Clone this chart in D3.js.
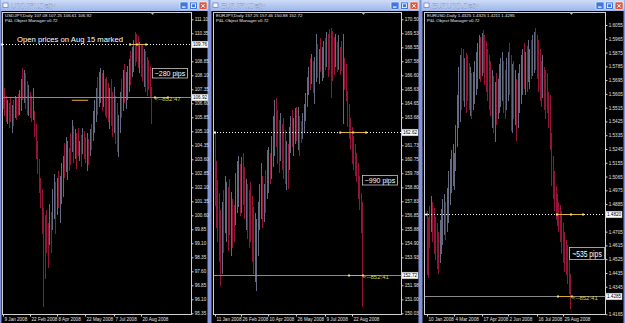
<!DOCTYPE html>
<html><head><meta charset="utf-8">
<script src="https://cdn.jsdelivr.net/npm/d3@7"></script>
<style>html,body{margin:0;padding:0;background:#000;overflow:hidden}svg{display:block}</style>
</head><body><svg id="c" width="625" height="323"></svg>
<script>
// ---------------- DATA ----------------
const usdjpyHigh = [109.6,107.4,107.0,106.8,106.6,106.9,106.5,106.8,107.0,106.9,
 107.1,107.3,107.9,108.5,108.4,108.2,107.8,107.6,107.2,107.0,
 107.4,106.2,105.5,104.6,103.6,102.6,102.0,101.0,100.6,100.9,
 100.2,101.2,100.8,102.0,102.8,102.4,102.6,103.0,102.7,103.4,
 103.8,104.5,104.8,104.6,104.2,105.0,105.7,105.4,105.2,105.0,
 105.3,104.6,104.9,105.3,105.1,104.8,105.0,104.7,105.2,105.5,
 106.2,106.8,107.4,108.0,108.3,108.5,108.2,108.4,107.9,108.0,
 107.7,107.4,107.9,107.2,107.5,107.0,106.6,106.0,107.2,107.9,
 108.4,108.7,108.3,108.6,109.0,109.4,109.6,110.0,110.4,110.3,
 110.2,109.9,109.7,109.8,109.5,109.4,109.1,108.9,108.6,107.5];
const usdjpyLow = [106.3,105.9,105.6,105.5,105.3,105.6,105.0,105.4,105.8,105.7,
 105.9,106.0,106.2,106.8,106.6,106.3,106.0,105.9,105.8,105.6,
 105.7,104.8,103.6,102.8,101.8,101.0,99.6,95.7,97.2,98.6,
 97.8,99.0,98.6,99.8,100.4,99.6,100.6,101.0,100.2,101.2,
 101.6,102.6,102.9,102.5,103.0,103.3,104.0,103.4,103.6,103.1,
 103.8,103.5,103.2,103.9,103.6,103.4,103.0,103.3,103.8,104.1,
 104.6,105.0,105.6,106.0,106.4,106.6,106.2,106.4,105.9,105.8,
 105.6,105.2,105.4,104.8,105.0,104.4,104.0,103.7,105.0,105.8,
 106.2,106.6,106.3,106.8,107.2,107.6,108.0,108.3,108.6,108.8,
 108.5,108.2,108.0,107.8,107.5,107.2,107.0,107.3,106.9,105.5];
const usdjpyDir = "0001001010"+"0110100100"+"1000000000"+"0101101011"+"1011001010"+
                  "0101001010"+"1110110100"+"0100100110"+"1011101100"+"0100100000";

const eurjpyHigh = [162.6,160.6,159.3,158.4,157.2,157.8,158.6,159.6,159.2,158.8,
 159.4,158.5,158.0,157.6,159.8,160.6,161.0,160.4,160.9,161.2,
 160.2,159.4,159.0,158.6,159.2,158.2,157.4,157.0,156.6,157.8,
 159.0,160.5,159.6,159.0,160.0,161.4,161.6,161.2,162.4,163.8,
 164.9,165.0,164.2,163.5,164.0,163.2,163.6,162.8,162.0,161.8,
 163.0,163.8,164.2,163.6,164.3,164.4,164.4,163.8,163.4,164.0,
 164.6,165.4,166.5,167.2,167.8,168.1,167.6,167.9,169.5,168.8,
 168.4,169.2,168.6,169.0,169.2,169.6,169.5,169.8,169.9,169.7,
 169.3,169.5,168.9,169.4,168.6,169.0,169.5,167.8,167.4,165.5,
 164.6,163.6,163.0,162.4,161.8,161.2,160.5,159.6,158.4,157.8];
const eurjpyLow = [157.5,156.0,155.0,153.6,151.9,152.8,154.2,155.6,155.0,154.4,
 155.5,154.0,154.6,155.0,156.2,157.0,157.4,156.8,157.0,157.6,
 156.6,155.8,155.2,154.6,155.0,153.6,152.8,152.2,151.6,154.0,
 155.8,156.6,156.0,156.4,157.0,158.0,158.4,159.0,159.4,160.2,
 161.0,161.6,160.4,159.8,160.6,160.0,159.4,159.0,158.6,158.7,
 160.0,161.2,161.6,161.0,161.8,162.0,161.4,161.0,161.9,162.2,
 162.6,163.4,164.4,165.2,165.6,166.0,165.4,164.6,166.1,166.4,
 166.0,166.8,166.2,166.4,167.0,167.2,166.5,167.0,165.0,166.2,
 166.6,167.2,166.8,167.0,166.6,166.9,163.2,165.6,164.8,163.0,
 162.2,161.4,160.4,160.0,159.6,159.2,158.0,157.2,155.6,150.5];
const eurjpyDir = "0000010110"+"0100111010"+"0100000111"+"1101011011"+"1000100010"+
                  "1101101001"+"1111010110"+"1011010000"+"0101001000"+"0000000000";

const eurusdHigh = [1.4840,1.4800,1.4870,1.4940,1.4900,1.4860,1.4800,1.4760,1.4700,1.4780,
 1.4850,1.4920,1.4950,1.4900,1.4990,1.5100,1.5180,1.5240,1.5280,1.5220,
 1.5400,1.5600,1.5780,1.5860,1.5904,1.5900,1.5840,1.5870,1.5860,1.5810,
 1.5780,1.5740,1.5750,1.5820,1.5880,1.5940,1.5990,1.5976,1.6000,1.6022,
 1.5990,1.5950,1.5900,1.5860,1.5820,1.5760,1.5720,1.5680,1.5740,1.5700,
 1.5800,1.5840,1.5880,1.5820,1.5760,1.5840,1.5880,1.5940,1.5860,1.5800,
 1.5820,1.5760,1.5700,1.5740,1.5800,1.5860,1.5900,1.5940,1.5880,1.5920,
 1.5960,1.5900,1.5960,1.5990,1.6010,1.6035,1.5990,1.5960,1.5900,1.5820,
 1.5860,1.5780,1.5760,1.5740,1.5620,1.5600,1.5350,1.5200,1.5100,1.5000,
 1.4950,1.4900,1.4880,1.4840,1.4760,1.4700,1.4650,1.4620,1.4560,1.4430];
const eurusdLow = [1.4420,1.4400,1.4600,1.4700,1.4640,1.4560,1.4520,1.4460,1.4426,1.4500,
 1.4560,1.4620,1.4680,1.4650,1.4700,1.4760,1.4880,1.4960,1.5000,1.4980,
 1.5100,1.5260,1.5380,1.5420,1.5500,1.5560,1.5520,1.5480,1.5560,1.5500,
 1.5460,1.5440,1.5500,1.5540,1.5600,1.5640,1.5700,1.5680,1.5720,1.5740,
 1.5660,1.5620,1.5560,1.5500,1.5460,1.5380,1.5350,1.5290,1.5400,1.5440,
 1.5480,1.5520,1.5560,1.5480,1.5440,1.5500,1.5560,1.5600,1.5360,1.5352,
 1.5440,1.5400,1.5300,1.5380,1.5480,1.5540,1.5600,1.5640,1.5600,1.5620,
 1.5680,1.5640,1.5700,1.5720,1.5740,1.5760,1.5700,1.5620,1.5560,1.5520,
 1.5580,1.5500,1.5440,1.5480,1.5380,1.5240,1.5000,1.4920,1.4840,1.4780,
 1.4740,1.4700,1.4640,1.4560,1.4500,1.4440,1.4420,1.4360,1.4300,1.4200];
const eurusdDir = "0001000001"+"1110111111"+"1111001000"+"1011111010"+"0000010101"+
                  "1110011001"+"0101111010"+"1101100000"+"1000000000"+"0000000000";

const usdjpyTicks = [111.10,110.35,109.60,108.85,108.10,107.35,106.60,105.85,105.10,104.35,103.60,
 102.85,102.10,101.35,100.60,99.85,99.10,98.35,97.60,96.85,96.10,95.35];
const eurjpyTicks = [170.50,169.53,168.55,167.58,166.60,165.63,164.65,163.68,162.70,161.73,160.75,
 159.78,158.80,157.83,156.85,155.88,154.90,153.93,152.95,151.98,151.00,150.03];
const eurusdTicks = [1.6055,1.5965,1.5875,1.5785,1.5695,1.5605,1.5515,1.5425,1.5335,1.5245,1.5155,
 1.5065,1.4975,1.4885,1.4795,1.4705,1.4615,1.4525,1.4435,1.4345,1.4255,1.4165];

const usdjpyDates = ["9 Jan 2008","22 Feb 2008","8 Apr 2008","22 May 2008","7 Jul 2008","20 Aug 2008"];
const eurjpyDates = ["11 Jan 2008","26 Feb 2008","10 Apr 2008","26 May 2008","9 Jul 2008","22 Aug 2008"];
const eurusdDates = ["10 Jan 2008","4 Mar 2008","17 Apr 2008","2 Jun 2008","16 Jul 2008","29 Aug 2008"];
const usdjpyDateBar = [0,18,36,55,74,92];
const eurjpyDateBar = [0,18,36,55,74,92];
const eurusdDateBar = [0,19,38,56,76,94];

// Aug 15 open and current close
const openAug15 = [109.76, 162.62, 1.4820];
const lastClose = [106.92, 152.72, 1.4285];
const pipsText = ["~280 pips","~990 pips","~535 pips"];
const timerText = ["<--852:47","<--852:41","<--852:41"];

// ---------------- DRAW ----------------
const svg = d3.select("#c");
const FONT = "'Liberation Sans', Arial, sans-serif";
svg.append("rect").attr("width",625).attr("height",323).attr("fill","#8093d8");
const defs = svg.append("defs");
const gr = defs.append("linearGradient").attr("id","tb").attr("x1",0).attr("y1",0).attr("x2",0).attr("y2",1);
gr.append("stop").attr("offset","0%").attr("stop-color","#cddcf7");
gr.append("stop").attr("offset","100%").attr("stop-color","#9db6e9");

const panels = [
 {title:"USDJPY,Daily", info:"USDJPY,Daily  107.08 107.25 106.61 106.92", wx0:0, wx1:209, pl:2, pr:191.5,
  xr:[3,151], hi:usdjpyHigh, lo:usdjpyLow, dir:usdjpyDir, ticks:usdjpyTicks, dec:2, yr:[313.3,19.3],
  dates:usdjpyDates, dbar:usdjpyDateBar, openMarks:[-0.6,85,89.7,95.7], closeMarks:[101.7,110.3], timerAt:101.5,
  box:[152,68,35,9.5], boxFont:7.6, sx:0.92, extra:true},
 {title:"EURJPY,Daily", info:"EURJPY,Daily  157.25 157.46 150.88 152.72", wx0:210, wx1:420, pl:213, pr:401.5,
  xr:[214.5,362], hi:eurjpyHigh, lo:eurjpyLow, dir:eurjpyDir, ticks:eurjpyTicks, dec:2, yr:[313.3,19.3],
  dates:eurjpyDates, dbar:eurjpyDateBar, openMarks:[0.3,84.4,93.1,101.7], closeMarks:[90.3,99.7], timerAt:99.7,
  box:[362,175,35,9.5], boxFont:7.6, sx:0.92},
 {title:"EURUSD,Daily", info:"EURUSD,Daily  1.4325 1.4325 1.4211 1.4285", wx0:421, wx1:625, pl:424, pr:605.5,
  xr:[426.5,570], hi:eurusdHigh, lo:eurusdLow, dir:eurusdDir, ticks:eurusdTicks, dec:4, yr:[314.3,25],
  dates:eurusdDates, dbar:eurusdDateBar, openMarks:[0,90,99.7,108], closeMarks:[90.7,100.3], timerAt:100.3,
  box:[569,247,35,12], boxFont:9.4, sx:0.72}
];

panels.forEach((p,k) => {
  const G = svg.append("g");
  const ww = p.wx1 - p.wx0;
  // title bar
  G.append("rect").attr("x",p.wx0+0.5).attr("y",0).attr("width",ww-1).attr("height",11).attr("fill","url(#tb)");
  G.append("rect").attr("x",p.wx0+3).attr("y",3).attr("width",5).attr("height",4.5)
    .attr("fill","#f4f6fb").attr("stroke","#4a68b8").attr("stroke-width",0.6);
  G.append("text").attr("x",p.wx0+11).attr("y",8.2).text(p.title)
    .attr("font-family",FONT).attr("font-size",7).attr("fill","#ffffff")
    .attr("stroke","#5a74b8").attr("stroke-width",0.25);
  // buttons
  [29,19.5,10].forEach((off,b) => {
    const bx = p.wx1 - off;
    G.append("rect").attr("x",bx).attr("y",2).attr("width",8).attr("height",7.5).attr("rx",1)
      .attr("fill", b===2 ? "#d9573a" : "#3f78e6").attr("stroke","#ffffff").attr("stroke-width",0.6);
    if (b===0) G.append("rect").attr("x",bx+2).attr("y",6.5).attr("width",3.5).attr("height",1.2).attr("fill","#fff");
    if (b===1) G.append("rect").attr("x",bx+2).attr("y",3.8).attr("width",4).attr("height",3.8)
      .attr("fill","none").attr("stroke","#fff").attr("stroke-width",0.8);
    if (b===2) G.append("path").attr("d",`M${bx+2.3},4 L${bx+5.7},7.6 M${bx+5.7},4 L${bx+2.3},7.6`)
      .attr("stroke","#fff").attr("stroke-width",1);
  });
  // chart area
  G.append("rect").attr("x",p.wx0+1.5).attr("y",11).attr("width",ww-3).attr("height",312).attr("fill","#000");

  const x = d3.scaleLinear().domain([0, p.hi.length-1]).range(p.xr);
  const y = d3.scaleLinear().domain([p.ticks[p.ticks.length-1], p.ticks[0]]).range(p.yr);
  const fmt = d3.format("." + p.dec + "f");
  const yo = Math.round(y(openAug15[k])) + 0.5;
  const yc = Math.round(y(lastClose[k])) + 0.5;

  // frame
  G.append("rect").attr("x",p.pl+0.5).attr("y",12.5).attr("width",p.pr-p.pl-0.5).attr("height",302)
    .attr("fill","none").attr("stroke","#d0d0d0").attr("stroke-width",1);

  // right axis (labels hidden where a price box sits on them)
  const shown = p.ticks.filter(t => Math.abs(y(t)-yo) > 5.5 && Math.abs(y(t)-yc) > 5.5);
  const ax = G.append("g").attr("transform",`translate(${p.pr},0)`)
    .call(d3.axisRight(y).tickValues(shown).tickFormat(fmt).tickSize(2).tickPadding(1.2));
  ax.select(".domain").remove();
  ax.selectAll("line").attr("stroke","#d0d0d0");
  ax.selectAll("text").attr("font-family",FONT).attr("font-size",4.6).attr("fill","#e0e0e0");

  // bottom date axis
  const dx = G.append("g").attr("transform","translate(0,314.5)");
  p.dates.forEach((d,i) => {
    const xx = Math.round(x(p.dbar[i])) + 0.5;
    dx.append("line").attr("x1",xx).attr("x2",xx).attr("y1",0).attr("y2",2).attr("stroke","#d0d0d0");
    dx.append("text").attr("x",xx+1).attr("y",6.6).text(d)
      .attr("font-family",FONT).attr("font-size",4.6).attr("fill","#e0e0e0");
  });

  // header info
  G.append("text").attr("x",p.pl+3).attr("y",17).text(p.info)
    .attr("font-family",FONT).attr("font-size",4.4).attr("fill","#e8e8e8");
  G.append("text").attr("x",p.pl+3).attr("y",21.5).text("P&L Object Manager v0.72")
    .attr("font-family",FONT).attr("font-size",4.4).attr("fill","#e8e8e8");

  // bars
  G.append("g").selectAll("line").data(p.hi).join("line")
    .attr("x1",(d,i)=>Math.round(x(i))+0.5).attr("x2",(d,i)=>Math.round(x(i))+0.5)
    .attr("y1",d=>y(d)).attr("y2",(d,i)=>y(p.lo[i]))
    .attr("stroke",(d,i)=> p.dir[i]==="1" ? "#646b80" : "#951539")
    .attr("stroke-width",1).attr("shape-rendering","crispEdges");

  // orange object line (USDJPY only)
  if (p.extra) {
    G.append("line").attr("x1",x(46)).attr("x2",x(57)).attr("y1",y(106.76)).attr("y2",y(106.76))
      .attr("stroke","#c89030").attr("stroke-width",1.2);
  }

  // open line (dotted)
  G.append("line").attr("x1",p.pl+1).attr("x2",p.pr).attr("y1",yo).attr("y2",yo)
    .attr("stroke","#ffffff").attr("stroke-dasharray","1,2").attr("stroke-width",1);
  const om = p.openMarks;
  G.append("line").attr("x1",x(om[1])).attr("x2",x(om[3])).attr("y1",yo).attr("y2",yo)
    .attr("stroke","#e0b040").attr("stroke-width",1);
  om.forEach((m,j) => G.append("rect").attr("x",x(m)-1).attr("y",yo-1).attr("width",2).attr("height",2)
    .attr("fill", j===0 ? "#ffffff" : "#f4e070"));

  // close line (solid gray)
  G.append("line").attr("x1",p.pl+1).attr("x2",p.pr).attr("y1",yc).attr("y2",yc)
    .attr("stroke","#8a8a8a").attr("stroke-width",1);
  const cm = p.closeMarks;
  G.append("line").attr("x1",x(cm[0])).attr("x2",x(cm[1])).attr("y1",yc).attr("y2",yc)
    .attr("stroke","#e0a830").attr("stroke-width",1);
  cm.forEach(m => G.append("rect").attr("x",x(m)-1).attr("y",yc-1).attr("width",2).attr("height",2).attr("fill","#f4e070"));
  G.append("text").attr("x",x(p.timerAt)).attr("y",yc+3.6).text(timerText[k])
    .attr("font-family",FONT).attr("font-size",6).attr("fill","#d0d848");

  // price boxes on the axis
  [[openAug15[k],yo],[lastClose[k],yc]].forEach(([v,yy]) => {
    G.append("rect").attr("x",p.pr+0.5).attr("y",yy-3.3).attr("width",16).attr("height",6.6)
      .attr("fill","#ffffff").attr("stroke","#c0c0c0").attr("stroke-width",0.5);
    G.append("text").attr("x",p.pr+1.5).attr("y",yy+1.7).text(fmt(v))
      .attr("font-family",FONT).attr("font-size",4.6).attr("fill","#000");
  });

  // shift marker
  G.append("path").attr("d",`M${x(100)-2},12.5 L${x(100)+2},12.5 L${x(100)},15 Z`).attr("fill","#b0b0b0");

  // pips box
  const b = p.box;
  G.append("rect").attr("x",b[0]+0.5).attr("y",b[1]+0.5).attr("width",b[2]).attr("height",b[3])
    .attr("fill","#000").attr("stroke","#c8c8c8").attr("stroke-width",0.8);
  const cx = b[0]+b[2]/2+0.5, cy = b[1]+b[3]/2+0.5;
  G.append("text").attr("transform",`translate(${cx},${cy}) scale(${p.sx},1)`).attr("dy","0.36em")
    .attr("text-anchor","middle").text(pipsText[k])
    .attr("font-family",FONT).attr("font-size",p.boxFont).attr("fill","#ffffff");
});

// annotation in first panel
svg.append("text").attr("x",17).attr("y",41.6).text("Open prices on Aug 15 marked")
  .attr("font-family",FONT).attr("font-size",8).attr("fill","#ffffff")
  .attr("textLength",106).attr("lengthAdjust","spacingAndGlyphs");
</script>
</body></html>
